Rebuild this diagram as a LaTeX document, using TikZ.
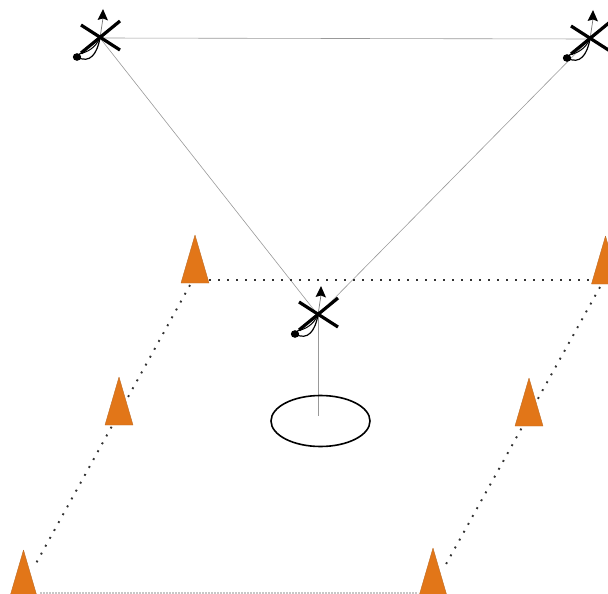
\documentclass[tikz,border=0pt]{standalone}
\usetikzlibrary{arrows.meta}
\definecolor{conefill}{RGB}{226,118,24}
\definecolor{coneedge}{RGB}{190,110,40}
\tikzset{
  wire/.style={draw=black!40,line width=0.6pt},
  dotline/.style={draw=black!80,line width=1.9pt,dash pattern=on 1.9pt off 7.1pt},
  faintdots/.style={draw=black!22,line width=1.1pt,dash pattern=on 2pt off 1pt},
  conebody/.style={fill=conefill,draw=coneedge,line width=0.4pt,line join=round},
  mic/.pic={
    \draw[black!55,line width=0.7pt] (0,0) -- (3,-20);
    \fill[black] (3,-29) -- (8,-17.5) -- (3,-19.5) -- (-2.5,-18) -- cycle;
    \draw[black,line width=3.2pt] (-19,-13) -- (20,12);
    \draw[black,line width=3.2pt] (20,-17) -- (-19,15);
    \fill[black] (-23,19) ellipse (4.2 and 3.8);
    \draw[black,line width=1.2pt] (-23,19) .. controls (-10,26) and (-3,16) .. (0,0);
    \draw[black,line width=1pt] (-21,16) .. controls (-12,14) and (-5,10) .. (0,0);
  },
}
\newcommand{\conepath}[2]{\path[conebody] (#1,#2) -- (#1-14,#2+48) -- (#1+14,#2+48) -- cycle;}
\begin{document}
\begin{tikzpicture}[x=1pt,y=-1pt]
\useasboundingbox (0,0) rectangle (608,594);
\coordinate (micL) at (100,38);
\coordinate (micR) at (590,39);
\coordinate (micC) at (318,315);
\coordinate (stand) at (318,416);
\coordinate (ring) at (320.5,421);
\coordinate (dTL) at (209,280);
\coordinate (dTR) at (592,280);
\coordinate (dLa) at (190,285);
\coordinate (dLb) at (34,567);
\coordinate (dRa) at (600,287);
\coordinate (dRb) at (445,566);
\coordinate (dBa) at (40,593);
\coordinate (dBb) at (418,593);
% wires
\draw[wire] (micL) -- (micR);
\draw[wire] (micL) -- (micC);
\draw[wire] (micR) -- (micC);
\draw[wire] (micC) -- (stand);
% dotted field
\draw[dotline] (dTL) -- (dTR);
\draw[dotline] (dLa) -- (dLb);
\draw[dotline] (dRa) -- (dRb);
\draw[faintdots] (dBa) -- (dBb);
% cones
\conepath{195}{235}
\conepath{119}{377}
\conepath{23.5}{550}
\conepath{529}{378}
\conepath{433}{548}
\conepath{605.5}{236}
% ellipse
\draw[black,line width=1.6pt] (ring) ellipse (49.5 and 25.5);
% mics
\pic at (micL) {mic};
\pic at (micR) {mic};
\pic at (micC) {mic};
\end{tikzpicture}
\end{document}
